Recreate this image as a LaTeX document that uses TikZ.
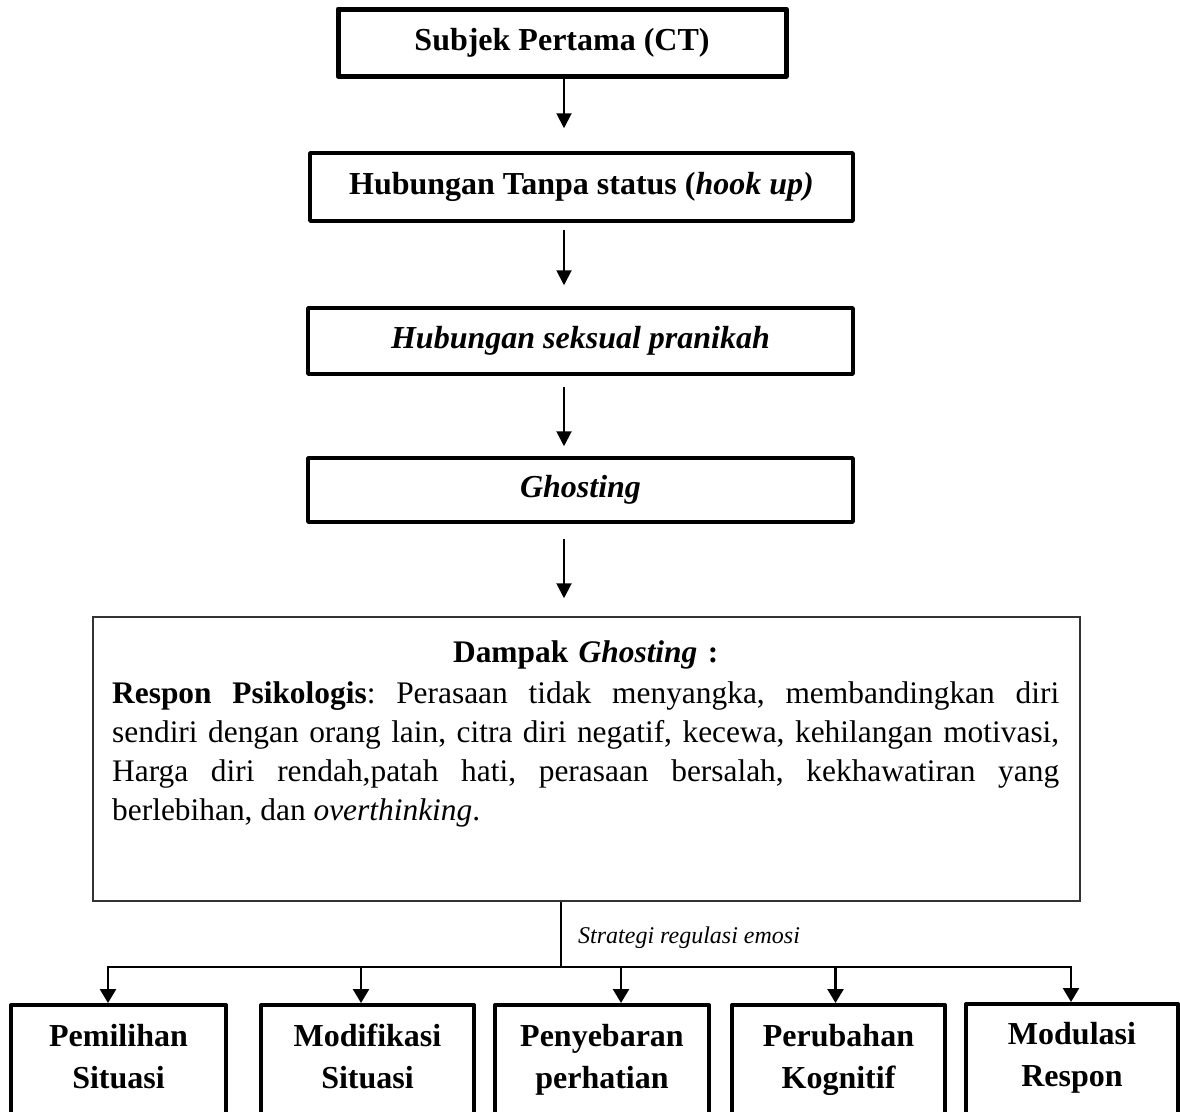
\documentclass[tikz,border=0pt]{standalone}
\usepackage{fontspec}
\setmainfont{Liberation Serif}
\usetikzlibrary{arrows.meta,calc}
\begin{document}
\begin{tikzpicture}[x=1pt,y=-1pt,
  flowbox/.style={draw=black, line width=3.5pt, line join=round, inner sep=0pt,
    font=\fontsize{32}{38}\selectfont\bfseries},
  bigbox/.style={draw=black!80, line width=1.5pt, inner sep=0pt},
  botbox/.style={draw=black, line width=4pt, line join=round, anchor=north, inner sep=0pt, minimum height=150pt},
  bottxt/.style={anchor=north, align=center, inner sep=0pt, font=\fontsize{32}{42}\selectfont\bfseries},
  arr/.style={line width=2pt, -{Triangle[width=15pt,length=15pt]}},
  conn/.style={line width=2.5pt, -{Triangle[width=16pt,length=14pt]}}
]
\fill[white] (0,0) rectangle (1180,1111);
\clip (0,0) rectangle (1180,1111);

% top chain
\node[flowbox, line width=5pt, minimum width=448pt, minimum height=67pt] (n1) at (562,42.5) {Subjek Pertama (CT)};
\node[flowbox, minimum width=543pt, minimum height=68pt] (n2) at (581.5,187) {Hubungan Tanpa status (\textit{hook up)}};
\node[flowbox, minimum width=545pt, minimum height=66pt] (n3) at (580.5,341) {\textit{Hubungan seksual pranikah}};
\node[flowbox, minimum width=545pt, minimum height=64pt] (n4) at (580.5,490) {\textit{Ghosting}};

% big box
\node[bigbox, minimum width=987pt, minimum height=284pt] (n5) at (586.5,759) {};
\node[anchor=north west, inner sep=0pt, text width=947pt, font=\fontsize{31.4}{39}\selectfont] (n5t) at (112,641) {%
{\centering\bfseries Dampak \textit{Ghosting} :\par}\vspace{2pt}%
\frenchspacing\spaceskip=7.85pt plus 60pt minus 2pt\relax
\hbox to 947pt{\textbf{Respon Psikologis}: Perasaan tidak menyangka, membandingkan diri}%
\hbox to 947pt{sendiri dengan orang lain, citra diri negatif, kecewa, kehilangan motivasi,}%
\hbox to 947pt{Harga diri rendah,patah hati, perasaan bersalah, kekhawatiran yang}%
\hbox{berlebihan, dan \textit{overthinking}.}};

% arrows of the chain
\coordinate (ax) at (564,0);
\draw[arr] (n1.south -| ax) -- ($(n2.north -| ax)+(0,-23)$);
\draw[arr] ($(n2.south -| ax)+(0,7)$) -- ($(n3.north -| ax)+(0,-21)$);
\draw[arr] ($(n3.south -| ax)+(0,11)$) -- ($(n4.north -| ax)+(0,-10)$);
\draw[arr] ($(n4.south -| ax)+(0,15)$) -- ($(n5.north -| ax)+(0,-18)$);

% bottom boxes
\node[botbox, minimum width=215pt] (c1) at (118.5,1003) {};
\node[botbox, minimum width=213pt] (c2) at (367.5,1003) {};
\node[botbox, minimum width=214pt] (c3) at (602,1003) {};
\node[botbox, minimum width=213pt] (c4) at (838.5,1003) {};
\node[botbox, minimum width=212pt] (c5) at (1072,1002) {};

\node[bottxt] (c1t) at (118.5,1024) {Pemilihan\\Situasi};
\node[bottxt] (c2t) at (367.5,1024) {Modifikasi\\Situasi};
\node[bottxt] (c3t) at (602,1024) {Penyebaran\\perhatian};
\node[bottxt] (c4t) at (838.5,1024) {Perubahan\\Kognitif};
\node[bottxt] (c5t) at (1072,1022) {Modulasi\\Respon};

% branching connectors
\coordinate (jc) at (561,967);
\coordinate (j1) at (108,967);
\coordinate (j2) at (361,967);
\coordinate (j3) at (621,967);
\coordinate (j4) at (835.5,967);
\coordinate (j5) at (1071,967);
\draw[line width=1.3pt] (n5.south -| jc) -- (jc);
\node[anchor=west, inner sep=0pt, font=\fontsize{24}{28}\selectfont\itshape] (lbl) at (578,938) {Strategi regulasi emosi};
\draw[conn] (jc) -| (c1.north -| j1);
\draw[conn] (jc) -| (c5.north -| j5);
\draw[conn] (j2) -- (c2.north -| j2);
\draw[conn] (j3) -- (c3.north -| j3);
\draw[conn] (j4) -- (c4.north -| j4);
\end{tikzpicture}
\end{document}
